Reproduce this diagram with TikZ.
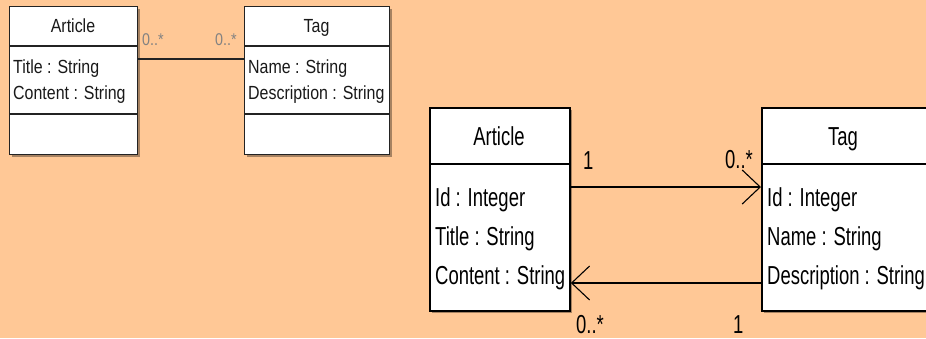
\documentclass[tikz,border=0pt]{standalone}
\usepackage{fontspec}
\setmainfont{Liberation Sans}
\newfontfamily\smallumlfont[FakeStretch=0.84]{Liberation Sans}
\newfontfamily\bigumlfont[FakeStretch=0.71]{Liberation Sans}
\usetikzlibrary{arrows.meta,shadows}

\definecolor{peach}{RGB}{255,200,150}
\definecolor{smallline}{RGB}{35,35,35}
\definecolor{multgray}{RGB}{130,130,130}

\tikzset{
  classbox/.style={draw, fill=white, anchor=north west, inner sep=0pt,
    drop shadow={shadow xshift=2.5pt, shadow yshift=-2.5pt, opacity=0.35, fill=black}},
  smallbox/.style={classbox, draw=smallline, line width=1.4pt},
  bigbox/.style={classbox, draw=black, line width=1.8pt},
  smalltext/.style={inner sep=0pt, anchor=base west, text=black!90,
    font=\smallumlfont\fontsize{19}{21}\selectfont},
  smallhead/.style={smalltext, anchor=base},
  smallmult/.style={inner sep=0pt, anchor=base west, text=multgray,
    font=\smallumlfont\fontsize{17}{19}\selectfont},
  bigtext/.style={inner sep=0pt, anchor=base west, text=black,
    font=\bigumlfont\fontsize{26}{30}\selectfont},
  bighead/.style={bigtext, anchor=base},
  bigmult/.style={bigtext},
  barb/.style={-{Straight Barb[length=18pt, width=34pt, line width=1.1pt]}},
}

\begin{document}
\begin{tikzpicture}[x=1pt, y=-1pt]
  \fill[peach] (0,0) rectangle (926,338);
  \useasboundingbox (0,0) rectangle (926,338);

  % ---------- small class diagram ----------
  \node[smallbox, minimum width=128pt, minimum height=148pt] (sArticle) at (9,6) {};
  \node[smallbox, minimum width=145pt, minimum height=148pt] (sTag) at (244,6) {};
  \foreach \b in {sArticle, sTag} {
    \draw[smallline, line width=1.4pt] ([yshift=-40pt]\b.north west) -- ([yshift=-40pt]\b.north east);
    \draw[smallline, line width=1.4pt] ([yshift=-108pt]\b.north west) -- ([yshift=-108pt]\b.north east);
  }
  \node[smallhead] (sArticleName) at (73,32) {Article};
  \node[smalltext] (sArticleA1) at (13,73) {Title : String};
  \node[smalltext] (sArticleA2) at (13,99) {Content : String};
  \node[smallhead] (sTagName) at (316.5,32) {Tag};
  \node[smalltext] (sTagA1) at (248,73) {Name : String};
  \node[smalltext] (sTagA2) at (248,99) {Description : String};

  \draw[smallline, line width=1.3pt] ([yshift=-53pt]sArticle.north east) -- ([yshift=-53pt]sTag.north west);
  \node[smallmult] (sMultA) at (142,45) {0..*};
  \node[smallmult] (sMultB) at (215,45) {0..*};

  % ---------- large class diagram ----------
  \node[bigbox, minimum width=140pt, minimum height=203pt] (bArticle) at (429,107) {};
  \node[bigbox, minimum width=180pt, minimum height=203pt] (bTag) at (761,107) {};
  \foreach \b in {bArticle, bTag}
    \draw[black, line width=1.8pt] ([yshift=-57pt]\b.north west) -- ([yshift=-57pt]\b.north east);

  \node[bighead] (bArticleName) at (499,145) {Article};
  \node[bigtext] (bArticleA1) at (435,206) {Id : Integer};
  \node[bigtext] (bArticleA2) at (435,245) {Title : String};
  \node[bigtext] (bArticleA3) at (435,284) {Content : String};
  \node[bighead] (bTagName) at (843,145) {Tag};
  \node[bigtext] (bTagA1) at (767,206) {Id : Integer};
  \node[bigtext] (bTagA2) at (767,245) {Name : String};
  \node[bigtext] (bTagA3) at (767,284) {Description : String};

  \draw[barb, line width=1.8pt] ([yshift=-80pt]bArticle.north east) -- ([yshift=-80pt]bTag.north west);
  \draw[barb, line width=1.8pt] ([yshift=-176pt]bTag.north west) -- ([yshift=-176pt]bArticle.north east);

  \node[bigmult] (bMult1) at (583,169) {1};
  \node[bigmult] (bMult2) at (725,168) {0..*};
  \node[bigmult] (bMult3) at (576,333) {0..*};
  \node[bigmult] (bMult4) at (733,333) {1};
\end{tikzpicture}
\end{document}
